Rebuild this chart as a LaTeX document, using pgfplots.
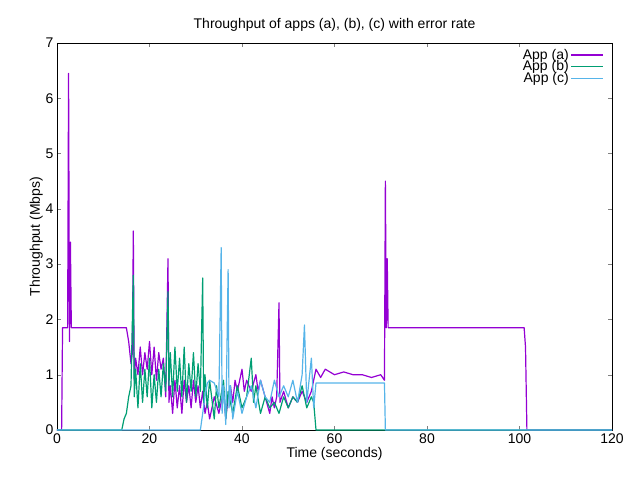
\documentclass[border=0pt]{standalone}
\usepackage{pgfplots}
\pgfplotsset{compat=1.18}
\usepackage{fontspec}
\setmainfont{Liberation Sans}
\definecolor{ca}{HTML}{9400D3}
\definecolor{cb}{HTML}{009E73}
\definecolor{cc}{HTML}{56B4E9}
\begin{document}
\begin{tikzpicture}
\begin{axis}[
  at={(0,0)}, anchor=origin,
  width=555pt, height=387pt, scale only axis,
  xmin=0, xmax=120, ymin=0, ymax=7,
  xtick={0,20,...,120}, ytick={0,1,...,7},
  tick align=inside, tick pos=both,
  /pgf/number format/assume math mode=true,
  tick label style={font=\fontsize{14}{16}\selectfont},
  label style={font=\fontsize{14}{16}\selectfont},
  xlabel={Time (seconds)}, ylabel={Throughput (Mbps)},
  ylabel style={yshift=-4pt}, xlabel style={yshift=3pt},
  title={Throughput of apps (a), (b), (c) with error rate},
  title style={font=\fontsize{14}{16}\selectfont, yshift=2pt},
  legend style={draw=none, fill=none, at={(0.99,0.995)}, anchor=north east, font=\fontsize{14}{14}\selectfont, row sep=-4pt},
  legend cell align=right, legend plot pos=right,
  legend image code/.code={\draw[#1] (0cm,0cm) -- (1.1cm,0cm);},
  every axis plot/.append style={line width=1.2pt, line join=round},
]
\addplot[ca] coordinates {(0,0)(1,0)(1.2,1.85)(2.3,1.85)(2.5,6.45)(2.7,1.6)(2.9,3.4)(3.1,1.85)(15,1.85)(15.5,1.6)(16,1.2)(16.3,1.4)(16.5,3.6)(16.7,0.9)(17,1.3)(17.5,1.0)(18,1.5)(18.5,1.0)(19,1.4)(19.5,1.1)(20,1.6)(20.5,1.0)(21,1.5)(21.5,0.9)(22,1.4)(22.5,1.1)(23,1.3)(23.5,0.6)(24,3.1)(24.2,0.5)(24.5,0.8)(25,0.3)(25.5,0.9)(26,0.4)(26.5,0.8)(27,0.3)(27.5,0.9)(28,0.5)(28.5,0.8)(29,0.4)(29.5,0.9)(30,0.5)(30.5,0.8)(31,0.4)(31.5,0.7)(32,0.3)(32.5,0.5)(33,0.2)(34,0.6)(35,0.3)(36,0.7)(36.5,0.2)(37,0.6)(37.5,0.8)(38,0.5)(38.5,0.9)(39,0.7)(40,1.1)(40.5,0.7)(41,0.9)(42,0.7)(43,1.0)(43.5,0.7)(44,0.9)(45,0.6)(46,0.3)(46.5,0.6)(47,0.4)(47.5,0.6)(48,2.3)(48.2,0.5)(49,0.7)(50,0.4)(51,0.6)(52,0.5)(53,0.7)(54,0.5)(55,0.7)(56,1.1)(57,0.95)(58,1.1)(60,1.0)(62,1.05)(64,1.0)(66,1.0)(68,0.95)(70,1.0)(70.8,0.9)(71,4.5)(71.2,1.85)(71.4,3.1)(71.6,1.85)(101,1.85)(101.3,1.5)(101.6,0)(120,0)};
\addlegendentry{App (a)}
\addplot[cb] coordinates {(0,0)(14,0)(14.5,0.2)(15,0.3)(15.5,0.6)(16,0.8)(16.5,2.8)(16.7,0.6)(17,1.1)(17.5,0.4)(18,1.2)(18.5,0.5)(19,1.1)(19.5,0.6)(20,1.3)(20.5,0.4)(21,1.0)(21.5,0.5)(22,1.1)(22.5,0.6)(23,1.2)(23.5,0.7)(24,2.5)(24.2,0.8)(24.5,1.4)(25,0.6)(25.5,1.5)(26,0.7)(26.5,1.3)(27,0.6)(27.5,1.5)(28,0.5)(28.5,1.2)(29,0.7)(29.5,1.4)(30,0.6)(30.5,1.2)(31,0.7)(31.5,2.75)(31.7,0.5)(32,1.0)(32.5,0.4)(33,0.9)(34,0.2)(34.5,0.8)(35,0.4)(36,0.9)(36.5,0.2)(37,0.7)(38,0.3)(39,0.8)(40,0.4)(41,0.6)(42,1.3)(42.5,0.5)(43,0.8)(44,0.3)(45,0.6)(46,0.4)(47,0.5)(48,0.3)(49,0.6)(50,0.4)(51,0.6)(52,0.5)(53,0.8)(54,0.4)(55,0.6)(55.5,0.5)(56,0)(120,0)};
\addlegendentry{App (b)}
\addplot[cc] coordinates {(0,0)(31,0)(31.5,0.3)(32,0.6)(32.5,0.85)(33,0.9)(34,0.85)(35,0.6)(35.5,3.3)(35.7,0.3)(36,0.8)(36.5,0.1)(37,2.9)(37.2,0.4)(37.5,0.8)(38,0.2)(39,0.7)(40,0.3)(41,0.6)(42,0.8)(43,0.4)(44,0.9)(45,0.6)(46,0.5)(47,0.9)(48,0.6)(49,0.8)(50,0.6)(51,0.9)(52,0.5)(53,1.0)(53.5,1.9)(54,0.5)(55,1.3)(55.5,0.4)(56,0.85)(60,0.85)(65,0.85)(70,0.85)(70.8,0.85)(71,0)(120,0)};
\addlegendentry{App (c)}
\end{axis}
\path[use as bounding box] (-57pt,-50pt) rectangle (583pt,430pt);
\end{tikzpicture}
\end{document}
